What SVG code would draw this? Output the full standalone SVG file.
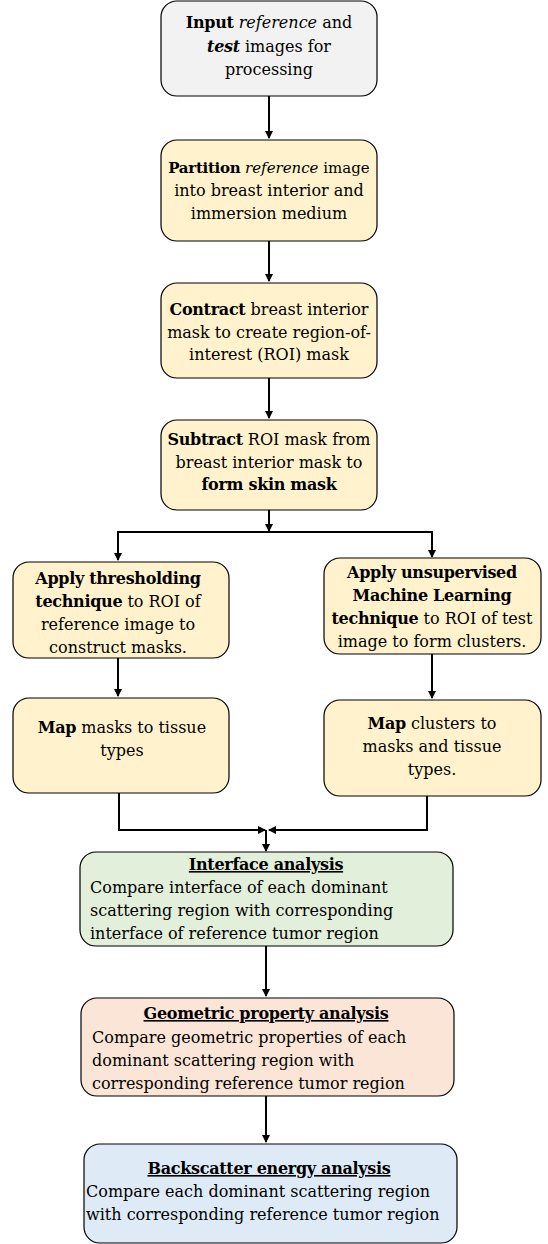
<svg xmlns="http://www.w3.org/2000/svg" width="548" height="1244" viewBox="0 0 548 1244">
<style>
.b{stroke:#000;stroke-width:1.2}
.t{font-family:"DejaVu Serif","Liberation Serif",serif;font-size:16px;fill:#000}
.c{text-anchor:middle}
.bo{font-weight:bold;letter-spacing:-0.3px}
.i{font-style:italic}
.u{text-decoration:underline}
.s{font-size:15px}
.e{stroke:#000;stroke-width:2;fill:none}
</style>
<defs>
<marker id="a" markerWidth="8" markerHeight="8" refX="7" refY="4" orient="auto" markerUnits="userSpaceOnUse">
<path d="M0,0 L8,4 L0,8 Z" fill="#000"/>
</marker>
</defs>
<g id="connectors">
<line class="e" x1="269" y1="96" x2="269" y2="138" marker-end="url(#a)"/>
<line class="e" x1="269" y1="241" x2="269" y2="281" marker-end="url(#a)"/>
<line class="e" x1="269" y1="378" x2="269" y2="418" marker-end="url(#a)"/>
<line class="e" x1="269" y1="510" x2="269" y2="531" marker-end="url(#a)"/>
<polyline class="e" points="118,559 118,532 432,532 432,556"/>
<line class="e" x1="118" y1="540" x2="118" y2="560" marker-end="url(#a)"/>
<line class="e" x1="432" y1="540" x2="432" y2="557" marker-end="url(#a)"/>
<line class="e" x1="118" y1="658" x2="118" y2="696" marker-end="url(#a)"/>
<line class="e" x1="432" y1="654" x2="432" y2="698" marker-end="url(#a)"/>
<polyline class="e" points="119,793 119,830 264,830"/>
<polyline class="e" points="427,796 427,830 270,830"/>
<line class="e" x1="250" y1="830" x2="265" y2="830" marker-end="url(#a)"/>
<line class="e" x1="284" y1="830" x2="269" y2="830" marker-end="url(#a)"/>
<line class="e" x1="266" y1="830" x2="266" y2="851" marker-end="url(#a)"/>
<line class="e" x1="266" y1="946" x2="266" y2="996" marker-end="url(#a)"/>
<line class="e" x1="266" y1="1096" x2="266" y2="1142" marker-end="url(#a)"/>
</g>
<g id="n1">
<rect class="b" x="161" y="1" width="216" height="95" rx="16" fill="#f2f2f2"/>
<text class="t c" x="269" y="28"><tspan class="bo">Input</tspan> <tspan class="i">reference</tspan> and</text>
<text class="t c" x="269" y="52"><tspan class="bo i">test</tspan> images for</text>
<text class="t c" x="269" y="75">processing</text>
</g>
<g id="n2">
<rect class="b" x="161" y="140" width="216" height="101" rx="16" fill="#fff2cc"/>
<text class="t c s" x="269" y="173"><tspan class="bo">Partition</tspan> <tspan class="i">reference</tspan> image</text>
<text class="t c" x="269" y="196">into breast interior and</text>
<text class="t c" x="269" y="219">immersion medium</text>
</g>
<g id="n3">
<rect class="b" x="161" y="283" width="216" height="95" rx="16" fill="#fff2cc"/>
<text class="t c" x="269" y="315"><tspan class="bo">Contract</tspan> breast interior</text>
<text class="t c" x="269" y="338">mask to create  region-of-</text>
<text class="t c" x="269" y="360">interest (ROI) mask</text>
</g>
<g id="n4">
<rect class="b" x="161" y="420" width="216" height="90" rx="16" fill="#fff2cc"/>
<text class="t c" x="269" y="445"><tspan class="bo">Subtract</tspan> ROI mask from</text>
<text class="t c" x="269" y="468">breast interior mask to</text>
<text class="t c bo" x="269" y="490">form skin mask</text>
</g>
<g id="n5">
<rect class="b" x="13" y="562" width="216" height="96" rx="16" fill="#fff2cc"/>
<text class="t c bo" x="118" y="584">Apply thresholding</text>
<text class="t c" x="118" y="607"><tspan class="bo">technique</tspan> to ROI of</text>
<text class="t c" x="118" y="630">reference image to</text>
<text class="t c" x="118" y="653">construct masks.</text>
</g>
<g id="n6">
<rect class="b" x="324" y="558" width="217" height="96" rx="16" fill="#fff2cc"/>
<text class="t c bo" x="432" y="578">Apply unsupervised</text>
<text class="t c bo" x="432" y="601">Machine Learning</text>
<text class="t c" x="432" y="624"><tspan class="bo">technique</tspan> to ROI of test</text>
<text class="t c" x="432" y="647">image to form clusters.</text>
</g>
<g id="n7">
<rect class="b" x="13" y="698" width="216" height="95" rx="16" fill="#fff2cc"/>
<text class="t c" x="122" y="733"><tspan class="bo">Map</tspan> masks to tissue</text>
<text class="t c" x="122" y="756">types</text>
</g>
<g id="n8">
<rect class="b" x="324" y="700" width="217" height="96" rx="16" fill="#fff2cc"/>
<text class="t c" x="432" y="729"><tspan class="bo">Map</tspan> clusters to</text>
<text class="t c" x="432" y="752">masks and tissue</text>
<text class="t c" x="432" y="775">types.</text>
</g>
<g id="n9">
<rect class="b" x="80" y="852" width="373" height="94" rx="16" fill="#e2efda"/>
<text class="t c bo u" x="266" y="870">Interface analysis</text>
<text class="t" x="90" y="893">Compare interface of each dominant</text>
<text class="t" x="90" y="916">scattering region with corresponding</text>
<text class="t" x="90" y="939">interface of reference tumor region</text>
</g>
<g id="n10">
<rect class="b" x="81" y="998" width="373" height="98" rx="16" fill="#fbe5d6"/>
<text class="t c bo u" x="266" y="1019">Geometric property analysis</text>
<text class="t" x="92" y="1043">Compare geometric properties of each</text>
<text class="t" x="92" y="1066">dominant scattering region with</text>
<text class="t" x="92" y="1089">corresponding reference tumor region</text>
</g>
<g id="n11">
<rect class="b" x="84" y="1144" width="373" height="99" rx="16" fill="#deebf7"/>
<text class="t c bo u" x="269" y="1174">Backscatter energy analysis</text>
<text class="t" x="86" y="1197">Compare each dominant scattering region</text>
<text class="t" x="86" y="1220">with corresponding reference tumor region</text>
</g>
</svg>
